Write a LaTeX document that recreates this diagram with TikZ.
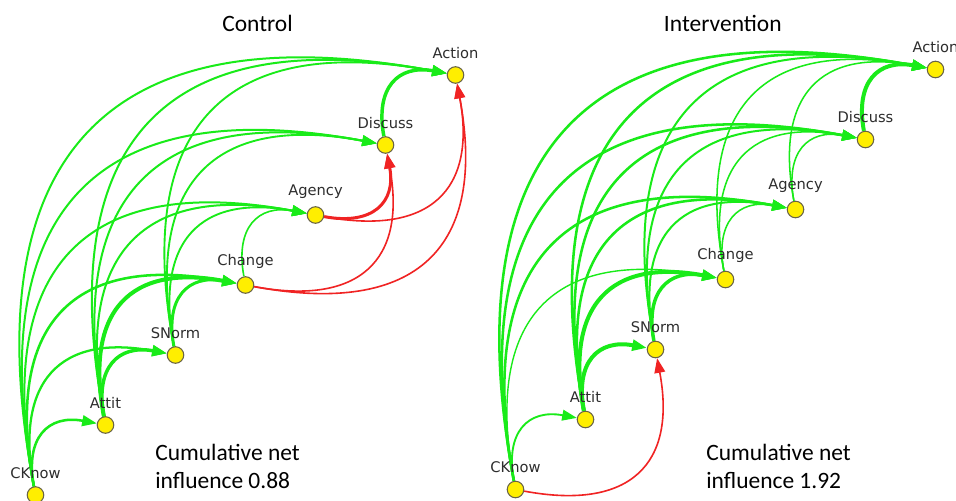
\documentclass[tikz,border=0pt]{standalone}
\usepackage{fontspec}
\setmainfont{Carlito}
\newfontfamily\lblfont{DejaVu Sans}
\usetikzlibrary{calc,arrows.meta}
\pgfdeclarelayer{bglayer}
\pgfdeclarelayer{edgelayer}
\pgfsetlayers{bglayer,edgelayer,main}
\definecolor{egreen}{RGB}{25,235,25}
\definecolor{ered}{RGB}{240,35,35}
\definecolor{nyellow}{RGB}{255,238,0}
\definecolor{nborder}{RGB}{105,100,70}
\definecolor{lblgray}{RGB}{45,45,45}
% quadratic curved edge: #1 style, #2 from, #3 to, #4 bend side (90 or -90)
\newcommand\qedge[4]{%
  \coordinate (qq) at ($(#2)!0.5!(#3)!1.458!#4:(#3)$);
  \draw[#1] (#2) .. controls ($(#2)!0.6667!(qq)$) and ($(#3)!0.6667!(qq)$) .. (#3);
}
\begin{document}
\begin{tikzpicture}[x=0.75pt,y=-0.75pt,
  vtx/.style={circle,draw=nborder,line width=0.8pt,fill=nyellow,minimum size=12.4pt,inner sep=0pt},
  lbl/.style={font=\lblfont\fontsize{11}{13}\selectfont,text=lblgray,inner sep=0pt},
  label distance=5.6pt,
  ttl/.style={font=\fontsize{17.6}{21}\selectfont,text=black,inner sep=0pt},
  gE/.style={draw=egreen,-{Triangle[length=11pt,width=8pt]}},
  rE/.style={draw=ered,-{Triangle[length=11pt,width=8pt]}}
]
\begin{pgfonlayer}{bglayer}
\fill[white] (0,0) rectangle (956,500);
\end{pgfonlayer}
\useasboundingbox (0,0) rectangle (956,500);
\clip (0,0) rectangle (956,500);

% ---------- Control ----------
\node[vtx,label={[lbl]90:CKnow}]   (cCK) at (35.5,495) {};
\node[vtx,label={[lbl]90:Attit}]   (cAt) at (105.5,425) {};
\node[vtx,label={[lbl]90:SNorm}]   (cSN) at (175.5,355) {};
\node[vtx,label={[lbl]90:Change}]  (cCh) at (245.5,285) {};
\node[vtx,label={[lbl]90:Agency}]  (cAg) at (315.5,215) {};
\node[vtx,label={[lbl]90:Discuss}] (cDi) at (385.5,145) {};
\node[vtx,label={[lbl]90:Action}]  (cAc) at (455.5,75) {};

% ---------- Intervention ----------
\node[vtx,label={[lbl]90:CKnow}]   (iCK) at (515.5,489.5) {};
\node[vtx,label={[lbl]90:Attit}]   (iAt) at (585.5,419.5) {};
\node[vtx,label={[lbl]90:SNorm}]   (iSN) at (655.5,349.5) {};
\node[vtx,label={[lbl]90:Change}]  (iCh) at (725.5,279.5) {};
\node[vtx,label={[lbl]90:Agency}]  (iAg) at (795.5,209.5) {};
\node[vtx,label={[lbl]90:Discuss}] (iDi) at (865.5,139.5) {};
\node[vtx,label={[lbl]90:Action}]  (iAc) at (935.5,69.5) {};

\begin{pgfonlayer}{edgelayer}
% Control edges
\qedge{gE,line width=1.9pt}{cCK}{cAt}{90}
\qedge{gE,line width=1.7pt}{cCK}{cSN}{90}
\qedge{gE,line width=1.9pt}{cCK}{cCh}{90}
\qedge{gE,line width=1.5pt}{cCK}{cAg}{90}
\qedge{gE,line width=1.5pt}{cCK}{cDi}{90}
\qedge{gE,line width=1.5pt}{cCK}{cAc}{90}
\qedge{gE,line width=2.6pt}{cAt}{cSN}{90}
\qedge{gE,line width=3pt}{cAt}{cCh}{90}
\qedge{gE,line width=1.5pt}{cAt}{cAg}{90}
\qedge{gE,line width=1.5pt}{cAt}{cDi}{90}
\qedge{gE,line width=1.5pt}{cAt}{cAc}{90}
\qedge{gE,line width=2.25pt}{cSN}{cCh}{90}
\qedge{gE,line width=1.4pt}{cSN}{cAg}{90}
\qedge{gE,line width=1.4pt}{cSN}{cDi}{90}
\qedge{gE,line width=1.4pt}{cSN}{cAc}{90}
\qedge{gE,line width=1.2pt}{cCh}{cAg}{90}
\qedge{rE,line width=1.2pt}{cCh}{cDi}{-90}
\qedge{rE,line width=1.2pt}{cCh}{cAc}{-90}
\qedge{rE,line width=2.25pt}{cAg}{cDi}{-90}
\qedge{rE,line width=1.2pt}{cAg}{cAc}{-90}
\qedge{gE,line width=2.6pt}{cDi}{cAc}{90}
% Intervention edges
\qedge{gE,line width=1.4pt}{iCK}{iAt}{90}
\qedge{rE,line width=1.2pt}{iCK}{iSN}{-90}
\qedge{gE,line width=1.05pt}{iCK}{iCh}{90}
\qedge{gE,line width=1.9pt}{iCK}{iAg}{90}
\qedge{gE,line width=1.9pt}{iCK}{iDi}{90}
\qedge{gE,line width=1.9pt}{iCK}{iAc}{90}
\qedge{gE,line width=3pt}{iAt}{iSN}{90}
\qedge{gE,line width=3pt}{iAt}{iCh}{90}
\qedge{gE,line width=1.9pt}{iAt}{iAg}{90}
\qedge{gE,line width=1.9pt}{iAt}{iDi}{90}
\qedge{gE,line width=1.9pt}{iAt}{iAc}{90}
\qedge{gE,line width=2.6pt}{iSN}{iCh}{90}
\qedge{gE,line width=1.5pt}{iSN}{iAg}{90}
\qedge{gE,line width=1.5pt}{iSN}{iDi}{90}
\qedge{gE,line width=1.5pt}{iSN}{iAc}{90}
\qedge{gE,line width=1.15pt}{iCh}{iAg}{90}
\qedge{gE,line width=1.15pt}{iCh}{iDi}{90}
\qedge{gE,line width=1.15pt}{iCh}{iAc}{90}
\qedge{gE,line width=1.15pt}{iAg}{iDi}{90}
\qedge{gE,line width=1.15pt}{iAg}{iAc}{90}
\qedge{gE,line width=3pt}{iDi}{iAc}{90}
\end{pgfonlayer}

% titles and notes
\node[ttl,anchor=base] (tC) at (257.5,31) {Control};
\node[ttl,anchor=base] (tI) at (722.8,31) {Intervention};
\node[ttl,anchor=base west] (cum1) at (155,460) {Cumulative net};
\node[ttl,anchor=base west] (cum2) at (155,488) {influence 0.88};
\node[ttl,anchor=base west] (ium1) at (706,460) {Cumulative net};
\node[ttl,anchor=base west] (ium2) at (706,488) {influence 1.92};
\end{tikzpicture}
\end{document}
